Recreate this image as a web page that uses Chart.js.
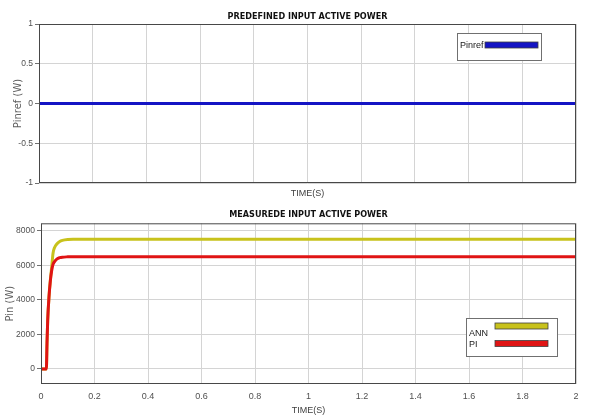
<!DOCTYPE html>
<html>
<head>
<meta charset="utf-8">
<script src="https://cdn.jsdelivr.net/npm/chart.js@4/dist/chart.umd.min.js"></script>
<style>
    body { margin: 0; background: #fff; }
    .panel { position: absolute; left: 0; }
</style>
</head>
<body>
<div class="panel" style="top:0"><canvas id="ref-chart" width="589" height="200"></canvas></div>
<div class="panel" style="top:200px"><canvas id="pin-chart" width="589" height="219"></canvas></div>
<script>
// Chart data
const refTime = [0, 2];
const pinref = [0, 0];

const timeS = [0, 0.02, 0.0225, 0.025, 0.03, 0.035, 0.04, 0.045, 0.05, 0.06, 0.07, 0.08, 0.1, 0.12, 0.15, 0.2, 2];
const annPower = [0, 0, 1500, 2800, 4200, 5150, 5900, 6700, 7000, 7250, 7380, 7440, 7490, 7500, 7500, 7500, 7500];
const piPower = [0, 0, 1500, 2800, 4200, 5100, 5700, 6050, 6200, 6370, 6440, 6470, 6490, 6500, 6500, 6500, 6500];

const timeTicks = [0, 0.2, 0.4, 0.6, 0.8, 1, 1.2, 1.4, 1.6, 1.8, 2];
const refTicks = [-1, -0.5, 0, 0.5, 1];
const pinTicks = [0, 2000, 4000, 6000, 8000];
const pinMin = -870;
const pinMax = 8430;

const TICK_FONT = "'Liberation Sans', Arial, sans-serif";
const TITLE_FONT = "'DejaVu Sans Condensed', 'Liberation Sans', sans-serif";

function points(xs, ys) {
    return xs.map((x, i) => ({ x: x, y: ys[i] }));
}

// Box round the plot area, like a MATLAB axes
const framePlugin = {
    id: 'frame',
    afterDraw(chart) {
        const a = chart.chartArea;
        const ctx = chart.ctx;
        ctx.save();
        ctx.strokeStyle = '#484848';
        ctx.lineWidth = 1;
        ctx.strokeRect(a.left + 0.5, a.top + 0.5, a.right - a.left - 1, a.bottom - a.top - 1);
        ctx.restore();
    }
};

// Legend box: label on the left, thick line sample on the right
function boxLegend(box) {
    return {
        id: 'boxLegend',
        afterDraw(chart) {
            const ctx = chart.ctx;
            ctx.save();
            ctx.fillStyle = '#fff';
            ctx.fillRect(box.x, box.y, box.w, box.h);
            ctx.strokeStyle = '#707070';
            ctx.lineWidth = 1;
            ctx.strokeRect(box.x + 0.5, box.y + 0.5, box.w, box.h);
            ctx.font = '9px ' + TICK_FONT;
            ctx.textBaseline = 'middle';
            box.rows.forEach((row) => {
                const ds = chart.data.datasets[row.index];
                ctx.fillStyle = '#202020';
                ctx.fillText(ds.label, box.x + box.textX, row.textY);
                ctx.fillStyle = ds.borderColor;
                ctx.fillRect(box.x + box.lineX, row.lineY - 3, box.lineW, 6);
                ctx.strokeStyle = '#404040';
                ctx.lineWidth = 0.8;
                ctx.strokeRect(box.x + box.lineX, row.lineY - 3, box.lineW, 6);
            });
            ctx.restore();
        }
    };
}

function xScale(showLabels, height, titlePad) {
    return {
        type: 'linear',
        min: 0,
        max: 2,
        afterBuildTicks: (axis) => { axis.ticks = timeTicks.map(v => ({ value: v })); },
        afterFit: (axis) => { axis.height = height; },
        border: { display: false },
        grid: { color: '#d4d4d4', drawTicks: false },
        ticks: {
            display: showLabels,
            padding: 7,
            color: '#505050',
            font: { family: TICK_FONT, size: 9 },
            maxRotation: 0,
            callback: (v) => String(Math.round(v * 10) / 10)
        },
        title: {
            display: true,
            text: 'TIME(S)',
            color: '#404040',
            font: { family: TICK_FONT, size: 9 },
            padding: { top: 0, bottom: titlePad }
        }
    };
}

function yScale(min, max, tickList, width, label, titlePad) {
    return {
        min: min,
        max: max,
        afterBuildTicks: (axis) => { axis.ticks = tickList.map(v => ({ value: v })); },
        afterFit: (axis) => { axis.width = width; },
        border: { display: false },
        grid: { color: '#d4d4d4', drawTicks: true, tickLength: 4, tickColor: '#707070' },
        ticks: {
            padding: 2,
            color: '#505050',
            font: { family: TICK_FONT, size: 8.5 },
            callback: (v) => String(v)
        },
        title: {
            display: true,
            text: label,
            color: '#606060',
            font: { family: "'DejaVu Sans', sans-serif", size: 10 },
            padding: { top: titlePad, bottom: 0 }
        }
    };
}

function titleOpts(text, top, bottom) {
    return {
        display: true,
        text: text,
        fullSize: false,
        color: '#111',
        font: { family: TITLE_FONT, size: 9, weight: 'bold' },
        padding: { top: top, bottom: bottom }
    };
}

// Top panel: predefined reference power
new Chart(document.getElementById('ref-chart').getContext('2d'), {
    type: 'line',
    data: {
        datasets: [{
            label: 'Pinref',
            data: points(refTime, pinref),
            borderColor: '#1414c4',
            borderWidth: 3,
            pointRadius: 0
        }]
    },
    options: {
        responsive: false,
        animation: false,
        layout: { padding: { left: 0, right: 13, top: 0, bottom: 0 } },
        scales: {
            x: xScale(false, 17, 0.6),
            y: yScale(-1, 1, refTicks, 39, 'Pinref (W)', 12)
        },
        plugins: {
            legend: { display: false },
            tooltip: { enabled: false },
            title: titleOpts('PREDEFINED INPUT ACTIVE POWER', 11.6, 1.6)
        }
    },
    plugins: [framePlugin, boxLegend({
        x: 457, y: 33, w: 84, h: 27, textX: 3, lineX: 28, lineW: 53,
        rows: [{ index: 0, textY: 46, lineY: 45 }]
    })]
});

// Bottom panel: measured power, ANN vs PI
new Chart(document.getElementById('pin-chart').getContext('2d'), {
    type: 'line',
    data: {
        datasets: [{
            label: 'ANN',
            data: points(timeS, annPower),
            borderColor: '#c8c21c',
            borderWidth: 3,
            pointRadius: 0,
            cubicInterpolationMode: 'monotone',
            order: 1
        }, {
            label: 'PI',
            data: points(timeS, piPower),
            borderColor: '#e01414',
            borderWidth: 3,
            pointRadius: 0,
            cubicInterpolationMode: 'monotone',
            order: 0
        }]
    },
    options: {
        responsive: false,
        animation: false,
        layout: { padding: { left: 0, right: 13, top: 0, bottom: 0 } },
        scales: {
            x: xScale(true, 35, 2.9),
            y: yScale(pinMin, pinMax, pinTicks, 41, 'Pin (W)', 4)
        },
        plugins: {
            legend: { display: false },
            tooltip: { enabled: false },
            title: titleOpts('MEASUREDE INPUT ACTIVE POWER', 9.6, 2.9)
        }
    },
    plugins: [framePlugin, boxLegend({
        x: 466, y: 118, w: 91, h: 38, textX: 3, lineX: 29, lineW: 53,
        rows: [{ index: 0, textY: 134, lineY: 126 }, { index: 1, textY: 145, lineY: 143.5 }]
    })]
});
</script>
</body>
</html>
